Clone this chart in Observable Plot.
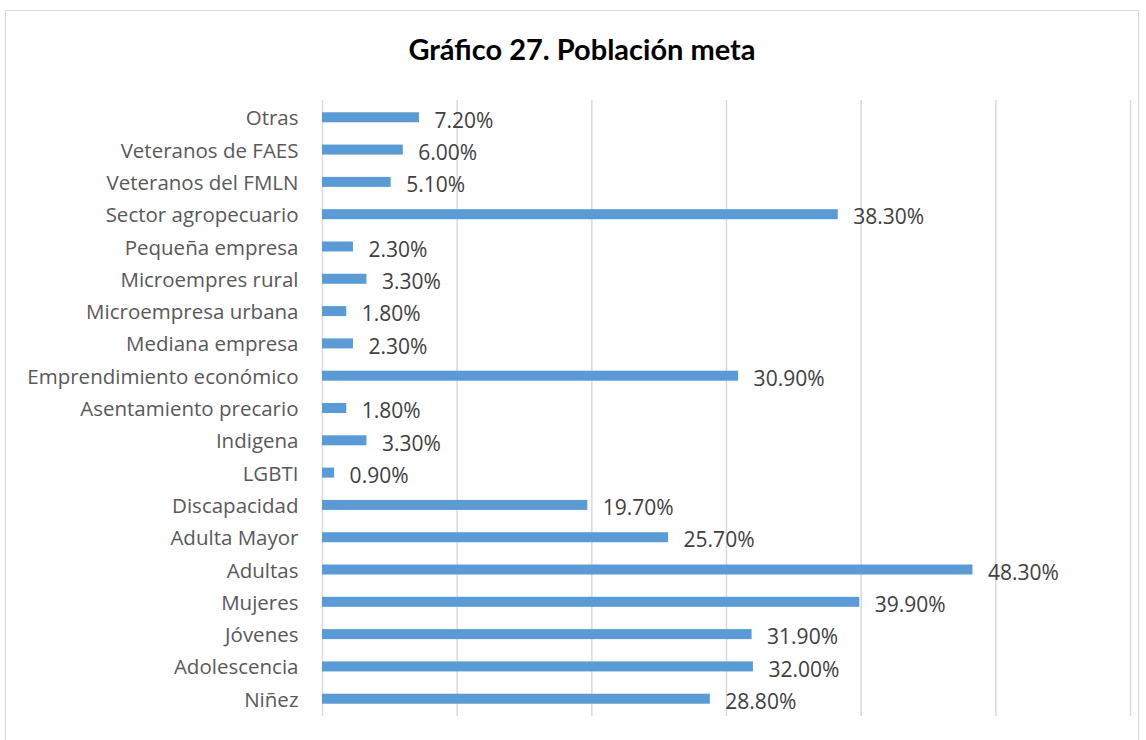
<!DOCTYPE html>
<html><head><meta charset="utf-8">
<script src="https://cdn.jsdelivr.net/npm/d3@7"></script>
<script src="https://cdn.jsdelivr.net/npm/@observablehq/plot@0.6"></script>
<style>
body{margin:0;background:#fff;}
#wrap{position:relative;width:1146px;height:740px;overflow:hidden;}
#frame{position:absolute;left:5px;top:10px;width:1134px;height:760px;border:1.5px solid #d9d9d9;box-sizing:border-box;}
#title{position:absolute;left:0;top:0;width:1146px;height:100px;text-align:center;line-height:98px;font-family:Lato,"Open Sans",sans-serif;font-weight:bold;font-size:29px;color:#000;padding-left:18px;box-sizing:border-box;}
#chart{position:absolute;left:0;top:100px;}
</style></head>
<body><div id="wrap"><div id="frame"></div><div id="title">Gráfico 27. Población meta</div><div id="chart"></div></div>
<script>
const categories = ["Otras","Veteranos de FAES","Veteranos del FMLN","Sector agropecuario","Pequeña empresa","Microempres rural","Microempresa urbana","Mediana empresa","Emprendimiento económico","Asentamiento precario","Indigena","LGBTI","Discapacidad","Adulta Mayor","Adultas","Mujeres","Jóvenes","Adolescencia","Niñez"];
const values = [7.2,6.0,5.1,38.3,2.3,3.3,1.8,2.3,30.9,1.8,3.3,0.9,19.7,25.7,48.3,39.9,31.9,32.0,28.8];
const xTicks = [0,10,20,30,40,50,60];
const data = categories.map((c,i)=>({cat:c, val:values[i], label:values[i].toFixed(2)+"%"}));
const font = "'Open Sans', Lato, sans-serif";
const chart = Plot.plot({
  width:1146, height:640,
  marginTop:0, marginBottom:24, marginLeft:322, marginRight:16,
  style:{fontFamily:font, background:"transparent"},
  x:{domain:[0,60], axis:null},
  y:{domain:categories, axis:null, paddingInner:0.69, paddingOuter:0.38, round:false},
  marks:[
    Plot.ruleX(xTicks,{stroke:"#d9d9d9", strokeWidth:1.5}),
    Plot.barX(data,{y:"cat", x:"val", fill:"#5b9bd5"}),
    Plot.text(data,{y:"cat", x:0, text:"cat", textAnchor:"end", dx:-24, dy:1, fontSize:20.5, fill:"#595959"}),
    Plot.text(data,{y:"cat", x:"val", text:"label", textAnchor:"start", dx:15, dy:3, fontSize:21, fill:"#404040"})
  ]
});
document.getElementById("chart").appendChild(chart);
</script></body></html>
